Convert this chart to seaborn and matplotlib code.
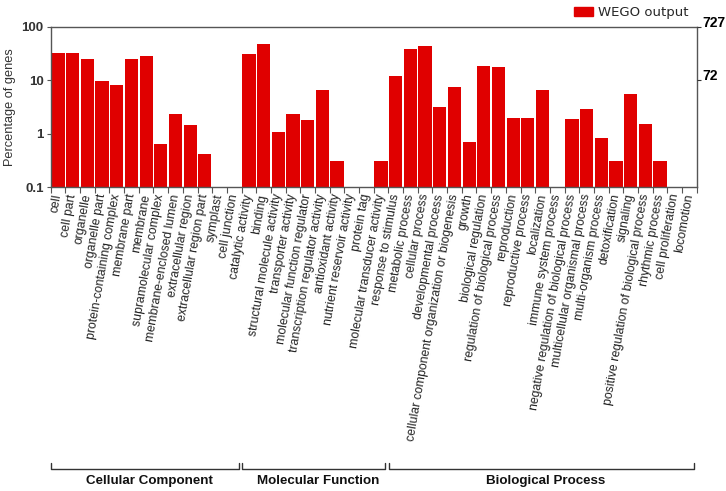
import numpy as np
import pandas as pd
import matplotlib
matplotlib.use('Agg')
import matplotlib.pyplot as plt
import matplotlib.transforms as mtransforms
from matplotlib.patches import Patch
import seaborn as sns

sns.set_style('ticks')
plt.rcParams['font.family'] = ['Liberation Sans', 'DejaVu Sans']

# GO terms, in the order of the chart ----
cc_terms = ['cell', 'cell part', 'organelle', 'organelle part', 'protein-containing complex',
            'membrane part', 'membrane', 'supramolecular complex', 'membrane-enclosed lumen',
            'extracellular region', 'extracellular region part', 'symplast', 'cell junction']
mf_terms = ['catalytic activity', 'binding', 'structural molecule activity', 'transporter activity',
            'molecular function regulator', 'transcription regulator activity', 'antioxidant activity',
            'nutrient reservoir activity', 'protein tag', 'molecular transducer activity']
bp_terms = ['response to stimulus', 'metabolic process', 'cellular process', 'developmental process',
            'cellular component organization or biogenesis', 'growth', 'biological regulation',
            'regulation of biological process', 'reproduction', 'reproductive process', 'localization',
            'immune system process', 'negative regulation of biological process',
            'multicellular organismal process', 'multi-organism process', 'detoxification', 'signaling',
            'positive regulation of biological process', 'rhythmic process', 'cell proliferation',
            'locomotion']

# percentage of genes (0 = no bar) ----
cc_pct = [31.5, 31.5, 24.4, 9.6, 8.0, 24.4, 28.4, 0.63, 2.3, 1.46, 0.41, 0, 0]
mf_pct = [30.2, 47.7, 1.05, 2.35, 1.76, 6.6, 0.31, 0, 0, 0.31]
bp_pct = [12.0, 37.5, 43.3, 3.2, 7.5, 0.71, 18.5, 17.7, 1.92, 1.92, 6.6,
          0, 1.84, 2.83, 0.84, 0.31, 5.6, 1.52, 0.31, 0, 0]

group_names = ['Cellular Component', 'Molecular Function', 'Biological Process']
right_ticks = [100, 10]
right_labels = ['727', '72']

terms = cc_terms + mf_terms + bp_terms
pct = cc_pct + mf_pct + bp_pct
df = pd.DataFrame({'term': terms, 'pct': pct})

fig = plt.figure(figsize=(7.26, 4.91), dpi=100)
ax = fig.add_axes([0.0698, 0.619, 0.8899, 0.327])

red = '#e00000'
sns.barplot(data=df, x='term', y='pct', order=terms, color=red, width=0.9,
            linewidth=0, saturation=1, errorbar=None, ax=ax)
ax.set_yscale('log')
ax.set_ylim(0.1, 100)
ax.set_xlim(-0.5, len(terms) - 0.5)

# axes look ----
for s in ax.spines.values():
    s.set_color('#555555')
    s.set_linewidth(1.0)
    s.set_visible(True)
ax.set_yticks([0.1, 1, 10, 100])
ax.set_yticklabels(['0.1', '1', '10', '100'], fontweight='bold')
ax.yaxis.set_minor_locator(matplotlib.ticker.NullLocator())
ax.tick_params(axis='y', which='major', length=3, color='#555555', labelsize=9.5,
               labelcolor='#333333', pad=2)
ax.set_ylabel('Percentage of genes', fontsize=9.2, color='#333333', labelpad=4)

ax.set_xticks(range(len(terms)))
ax.set_xticklabels(terms, rotation=80, ha='right', va='center', rotation_mode='anchor',
                   fontsize=8.8, color='#222222')
ax.set_xticks(np.arange(-0.5, len(terms), 1.0), minor=True)
ax.tick_params(axis='x', which='major', length=0, pad=5)
ax.tick_params(axis='x', which='minor', length=4, color='#555555', width=0.8)
ax.set_xlabel('')

# right axis with gene counts ----
ax2 = ax.twinx()
ax2.set_yscale('log')
ax2.set_ylim(0.1, 100)
ax2.set_yticks(right_ticks)
ax2.set_yticklabels(right_labels, fontweight='bold', fontsize=10, color='black', va='center')
ax2.yaxis.set_minor_locator(matplotlib.ticker.NullLocator())
ax2.tick_params(axis='y', length=3, color='#333333', pad=1)
shift = mtransforms.ScaledTranslation(0, 4 / 100, fig.dpi_scale_trans)
for lab in ax2.get_yticklabels():
    lab.set_transform(lab.get_transform() + shift)
for s in ax2.spines.values():
    s.set_visible(False)

# legend ----
fig.legend(handles=[Patch(color=red, label='WEGO output')], loc='upper right',
           bbox_to_anchor=(0.965, 1.012), frameon=False,
           handlelength=1.4, handleheight=0.6, handletextpad=0.4,
           prop={'family': 'DejaVu Sans', 'size': 9.5})

# group brackets ----
trans = mtransforms.blended_transform_factory(ax.transData, fig.transFigure)
counts = [len(cc_terms), len(mf_terms), len(bp_terms)]
start = 0
y_line = 1 - 469 / 491
y_end = 1 - 463 / 491
for name, n in zip(group_names, counts):
    x0 = start - 0.45
    x1 = start + n - 1 + 0.3
    ax.plot([x0, x0, x1, x1], [y_end, y_line, y_line, y_end], color='#333333', lw=1.0,
            transform=trans, clip_on=False)
    ax.text((x0 + x1) / 2 + 0.3, 1 - 481 / 491, name, transform=trans, ha='center', va='center',
            fontsize=9.6, fontweight='bold', color='#111111')
    start += n

fig.savefig('out.png', dpi=100)
